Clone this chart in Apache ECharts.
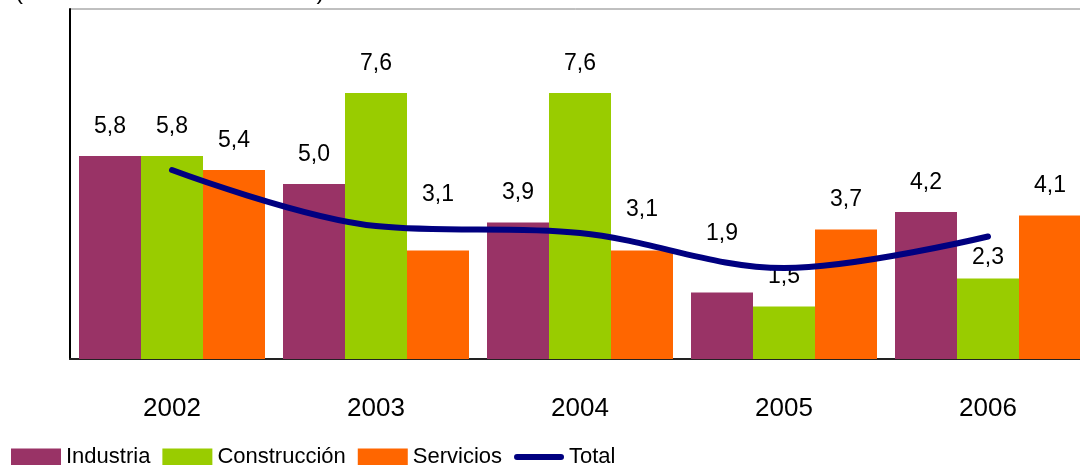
<!DOCTYPE html>
<html>
<head>
<meta charset="utf-8">
<script src="https://cdn.jsdelivr.net/npm/echarts@6/dist/echarts.min.js"></script>
<style>
  html, body { margin: 0; padding: 0; background: #fff; }
  #chart { width: 1080px; height: 465px; }
</style>
</head>
<body>
<div id="chart"></div>
<script>
var years = ['2002', '2003', '2004', '2005', '2006'];
var industria = [5.8, 5.0, 3.9, 1.9, 4.2];
var construccion = [5.8, 7.6, 7.6, 1.5, 2.3];
var servicios = [5.4, 3.1, 3.1, 3.7, 4.1];
var total = [5.4, 3.8, 3.6, 2.6, 3.5];

var font = 'Liberation Sans, Arial, sans-serif';

function fmt(p) {
  return p.value.toFixed(1).replace('.', ',');
}

// labels that were moved by hand in the original (index -> distance)
function barData(values, moved) {
  return values.map(function (v, i) {
    if (moved && moved[i] != null) {
      return { value: v, label: { distance: moved[i] } };
    }
    return v;
  });
}

function barSeries(name, values, color, moved) {
  return {
    name: name,
    type: 'bar',
    barWidth: 62,
    barGap: '0%',
    itemStyle: { color: color },
    label: {
      show: true,
      position: 'top',
      distance: 18,
      color: '#000',
      fontFamily: font,
      fontSize: 23,
      formatter: fmt
    },
    data: barData(values, moved)
  };
}

var chart = echarts.init(document.getElementById('chart'));
chart.setOption({
  animation: false,
  backgroundColor: '#fff',
  title: {
    text: '(tasa de variación interanual)',
    left: 10,
    top: -25,
    textStyle: { fontFamily: font, fontSize: 24, fontWeight: 'normal', color: '#000' }
  },
  grid: {
    left: 70,
    top: 9,
    width: 1020,
    bottom: 106,
    outerBoundsMode: 'none',
    show: true,
    borderColor: '#808080',
    borderWidth: 1
  },
  legend: {
    left: 11,
    top: 446,
    padding: 0,
    itemWidth: 50,
    itemHeight: 17,
    itemGap: 12,
    textStyle: { fontFamily: font, fontSize: 22, color: '#000' },
    data: [
      { name: 'Industria', icon: 'rect' },
      { name: 'Construcción', icon: 'rect' },
      { name: 'Servicios', icon: 'rect' },
      { name: 'Total', icon: 'path://M0,0 M50,17 M3,5.5 L47,5.5 A3,3 0 0 1 47,11.5 L3,11.5 A3,3 0 0 1 3,5.5 Z' }
    ]
  },
  xAxis: [
    {
      type: 'category',
      data: years,
      axisLine: { lineStyle: { color: '#222', width: 2 } },
      axisTick: { inside: true, length: 9, lineStyle: { color: '#222' } },
      axisLabel: { fontFamily: font, fontSize: 26, color: '#000', margin: 37 }
    },
    {
      type: 'category',
      data: years,
      position: 'bottom',
      axisLine: { show: false },
      axisTick: { inside: true, alignWithLabel: true, length: 5, lineStyle: { color: '#222' } },
      axisLabel: { show: false }
    }
  ],
  yAxis: {
    type: 'value',
    min: 0,
    max: 10,
    axisLine: { show: true, lineStyle: { color: '#000', width: 2 } },
    axisTick: { show: false },
    axisLabel: { show: false },
    splitLine: { show: false }
  },
  series: [
    barSeries('Industria', industria, '#993366', { 3: 47 }),
    barSeries('Construcción', construccion, '#99CC00', { 4: 9 }),
    barSeries('Servicios', servicios, '#FF6600', { 1: 44, 2: 29 }),
    {
      name: 'Total',
      type: 'line',
      data: total,
      smooth: 0.35,
      symbol: 'none',
      z: 5,
      lineStyle: { color: '#000080', width: 6, cap: 'round' },
      itemStyle: { color: '#000080' }
    }
  ]
});
</script>
</body>
</html>
